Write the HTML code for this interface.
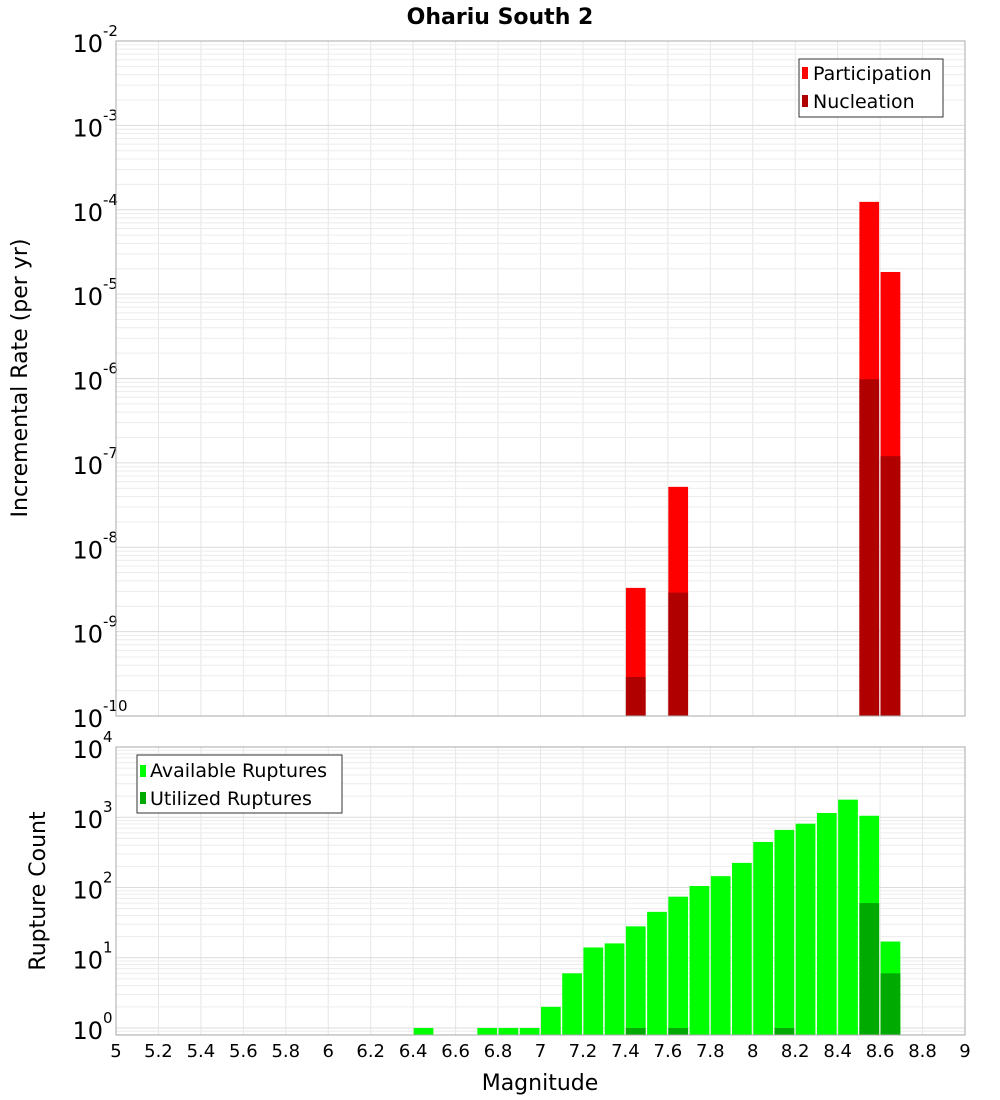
<!DOCTYPE html>
<html><head><meta charset="utf-8"><style>
html,body{margin:0;padding:0;background:#fff;}
svg{display:block;font-family:"DejaVu Sans","Liberation Sans",sans-serif;}
</style></head><body>
<svg id="chart" width="1000" height="1100" xmlns="http://www.w3.org/2000/svg">
<text x="500" y="24" text-anchor="middle" font-size="22" font-weight="bold">Ohariu South 2</text>
<g id="topPanel"></g>
<g id="botPanel"></g>
<text transform="translate(27,378) rotate(-90)" text-anchor="middle" font-size="22">Incremental Rate (per yr)</text>
<text transform="translate(45,891) rotate(-90)" text-anchor="middle" font-size="22">Rupture Count</text>
<text x="540" y="1090" text-anchor="middle" font-size="22">Magnitude</text>
<g>
<rect x="799" y="59" width="144" height="58" fill="#fff" stroke="#333" stroke-width="1"/>
<rect x="802" y="67" width="6" height="12" fill="#ff0000"/>
<text x="813" y="80" font-size="19">Participation</text>
<rect x="802" y="95" width="6" height="12" fill="#b00000"/>
<text x="813" y="108" font-size="19">Nucleation</text>
</g>
<g>
<rect x="137" y="755" width="205" height="58" fill="#fff" stroke="#333" stroke-width="1"/>
<rect x="140" y="765" width="6" height="12" fill="#00ff00"/>
<text x="150" y="777" font-size="19">Available Ruptures</text>
<rect x="140" y="792" width="6" height="12" fill="#00aa00"/>
<text x="150" y="805" font-size="19">Utilized Ruptures</text>
</g>
</svg>
<script>
const mags = [6.45,6.75,6.85,6.95,7.05,7.15,7.25,7.35,7.45,7.55,7.65,7.75,7.85,7.95,8.05,8.15,8.25,8.35,8.45,8.55,8.65];
const available = [1,1,1,1,2,6,14,16,28,45,74,105,145,224,445,660,810,1150,1780,1050,17];
const utilizedMags = [7.45,7.65,8.15,8.55,8.65];
const utilized = [1,1,1,60,6];
const rateMags = [7.45,7.65,8.55,8.65];
const participation = [3.3e-9,5.2e-8,1.24e-4,1.83e-5];
const nucleation = [2.9e-10,2.9e-9,9.8e-7,1.2e-7];
const xTicks = [5,5.2,5.4,5.6,5.8,6,6.2,6.4,6.6,6.8,7,7.2,7.4,7.6,7.8,8,8.2,8.4,8.6,8.8,9];
const topExps = [-10,-9,-8,-7,-6,-5,-4,-3,-2];
const botExps = [0,1,2,3,4];

const NS="http://www.w3.org/2000/svg";
const X0=116,X1=965;
const xs=m=>X0+(m-5)/4*(X1-X0);
const TP={top:41,bot:716,lo:-10,hi:-2};
const BP={top:747,bot:1035,lo:-0.1,hi:4};
const ys=(P,v)=>P.bot-(Math.log10(v)-P.lo)/(P.hi-P.lo)*(P.bot-P.top);
function mk(tag,attrs,parent){const e=document.createElementNS(NS,tag);for(const k in attrs)e.setAttribute(k,attrs[k]);parent.appendChild(e);return e;}
function panel(P,g,exps,pre){
  mk('rect',{x:X0,y:P.top,width:X1-X0,height:P.bot-P.top,fill:'#fff'},g);
  xTicks.forEach(t=>{const l=mk('line',{x1:xs(t),x2:xs(t),y1:P.top,y2:P.bot,stroke:'#e6e6e6','stroke-width':1},g);
    
    });
  for(let e=Math.floor(P.lo);e<P.hi;e++){for(let k=1;k<10;k++){const v=k*Math.pow(10,e);const y=ys(P,v);if(y<P.top-0.1||y>P.bot+0.1)continue;
    const l=mk('line',{x1:X0,x2:X1,y1:y,y2:y,stroke:k==1?'#dcdcdc':'#ececec','stroke-width':1},g);
    
    }}
  exps.forEach(e=>{const y=ys(P,Math.pow(10,e));
    const t=mk('text',{x:103,y:y+11,'text-anchor':'end','font-size':24},g);t.textContent='10';
    
    
    const s=mk('text',{x:103,y:y-5,'font-size':15},g);s.textContent=String(e);
    
    });
}
const topG=document.getElementById('topPanel'),botG=document.getElementById('botPanel');
panel(TP,topG,topExps,'top');panel(BP,botG,botExps,'bottom');
const bw=(X1-X0)/40;
function bar(P,g,m,v,fill,name){const y=ys(P,v);const r=mk('rect',{x:xs(m)-bw/2+0.5,y:y,width:bw-1.5,height:P.bot-y,fill:fill},g);
  
  }
rateMags.forEach((m,i)=>bar(TP,topG,m,participation[i],'#ff0000','participation-bar'));
rateMags.forEach((m,i)=>bar(TP,topG,m,nucleation[i],'#b00000','nucleation-bar'));
mags.forEach((m,i)=>bar(BP,botG,m,available[i],'#00ff00','available-bar'));
utilizedMags.forEach((m,i)=>bar(BP,botG,m,utilized[i],'#00aa00','utilized-bar'));
[TP,BP].forEach((P,i)=>{const r=mk('rect',{x:X0,y:P.top,width:X1-X0,height:P.bot-P.top,fill:'none',stroke:'#aaa','stroke-width':1},i?botG:topG);
  
  });
const svgEl=document.getElementById('chart');
xTicks.forEach(t=>{const e=mk('text',{x:xs(t),y:1057,'text-anchor':'middle','font-size':18},svgEl);e.textContent=String(t);
  
  });
</script>
</body></html>
